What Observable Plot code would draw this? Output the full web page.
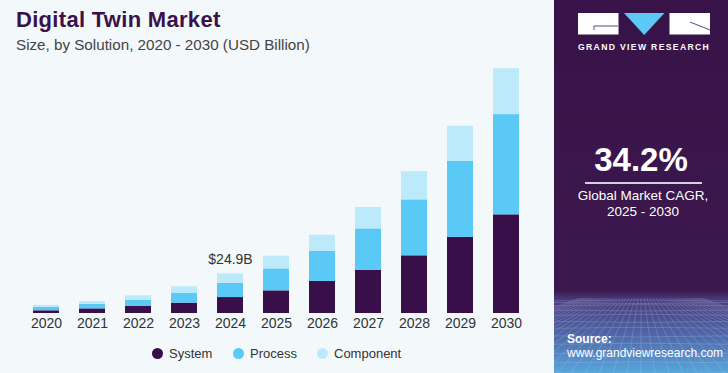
<!DOCTYPE html>
<html>
<head>
<meta charset="utf-8">
<script src="https://cdn.jsdelivr.net/npm/d3@7"></script>
<script src="https://cdn.jsdelivr.net/npm/@observablehq/plot@0.6"></script>
<style>
  html, body { margin: 0; padding: 0; }
  body { width: 728px; height: 373px; overflow: hidden; background: #f3f8fb; font-family: "Liberation Sans", Arial, sans-serif; }
  #wrap { position: relative; width: 728px; height: 373px; }
  #title { position: absolute; left: 16px; top: 7px; font-size: 22px; font-weight: bold; color: #3a1249; letter-spacing: 0.3px; }
  #subtitle { position: absolute; left: 16px; top: 36px; font-size: 15.2px; color: #444; }
  #chart { position: absolute; left: 0; top: 0; }
  #legend { position: absolute; left: 0; top: 343px; width: 553px; height: 20px; font-size: 13px; color: #333; }
  .li { position: absolute; top: 0; display: flex; align-items: center; height: 20px; }
  .sw { width: 11px; height: 11px; border-radius: 50%; margin-right: 6px; }
  #panel { position: absolute; left: 554px; top: 0; width: 174px; height: 373px;
    background: linear-gradient(to bottom, #381349 0px, #3b184d 290px, #4a3b7c 300px, #4f67a8 335px, #58a6dc 373px); overflow: hidden; }
  #grid { position: absolute; left: 0; top: 298px; width: 174px; height: 75px; opacity: 0.35; }
  #cagr { position: absolute; left: 0; width: 174px; top: 141px; text-align: center; color: #fff; font-size: 33px; font-weight: bold; }
  #rule { position: absolute; left: 31px; top: 182px; width: 117px; height: 1.5px; background: #d6cfe0; }
  #cagrtxt { position: absolute; left: 0; width: 178px; top: 188px; text-align: center; color: #fff; font-size: 13.5px; line-height: 16px; }
  #src { position: absolute; left: 13px; top: 332px; color: #fff; font-size: 12px; line-height: 14px; white-space: nowrap; }
  #gvr { position: absolute; left: 24px; top: 42px; color: #fff; font-size: 8.6px; font-weight: bold; letter-spacing: 1.35px; }
</style>
</head>
<body>
<div id="wrap">
  <div id="chart"></div>
  <div id="title">Digital Twin Market</div>
  <div id="subtitle">Size, by Solution, 2020 - 2030 (USD Billion)</div>
  <div id="legend"></div>
  <div id="panel">
    <svg id="grid" viewBox="0 0 174 75"></svg>
    <svg style="position:absolute;left:0;top:0" width="174" height="40">
      <rect x="24" y="13" width="40.5" height="21.5" fill="#fff"/>
      <path d="M40 26 L40 30 M40 26 L64 26" stroke="#5a4a7a" stroke-width="1" fill="none"/>
      <polygon points="70,13 110.5,13 90.2,35" fill="#5bc8f5"/>
      <rect x="115.5" y="13" width="40.5" height="21.5" fill="#fff"/>
      <path d="M136 22 L156 30" stroke="#5a4a7a" stroke-width="1" fill="none"/>
    </svg>
    <div id="gvr">GRAND VIEW RESEARCH</div>
    <div id="cagr">34.2%</div>
    <div id="rule"></div>
    <div id="cagrtxt">Global Market CAGR,<br>2025 - 2030</div>
    <div id="src"><b>Source:</b><br>www.grandviewresearch.com</div>
  </div>
</div>
<script>
const years = ["2020","2021","2022","2023","2024","2025","2026","2027","2028","2029","2030"];
const segments = ["System", "Process", "Component"];
const system    = [1.7, 2.9, 4.6, 6.5, 10.0, 14.2, 20.1, 27.0, 36.2, 47.7, 61.9];
const process   = [2.1, 2.9, 3.6, 6.3,  9.0, 13.8, 19.0, 26.1, 35.1, 47.7, 62.9];
const component = [1.3, 1.7, 2.9, 4.0,  5.9,  8.0, 10.0, 13.4, 17.7, 22.1, 28.8];
const colors = ["#380f48", "#5bc9f6", "#bdeafb"];
const annotations = [{year: "2024", total: 24.9, label: "$24.9B"}];

const series = {System: system, Process: process, Component: component};
const data = [];
segments.forEach(s => years.forEach((y, i) => data.push({year: y, segment: s, value: series[s][i]})));

const plot = Plot.plot({
  width: 553,
  height: 340,
  marginLeft: 12,
  marginRight: 13,
  marginTop: 58,
  marginBottom: 27,
  style: {background: "transparent", fontFamily: "Liberation Sans, Arial, sans-serif"},
  x: {domain: years, padding: 0.44, label: null},
  y: {domain: [0, 160], axis: null},
  color: {domain: segments, range: colors},
  marks: [
    Plot.barY(data, {x: "year", y: "value", fill: "segment", order: segments}),
    Plot.axisX({tickSize: 0, tickPadding: 5, fontSize: 14, fill: "#333", label: null}),
    Plot.text(annotations, {x: "year", y: "total", text: "label", dy: -10, fontSize: 14, fill: "#333", lineAnchor: "bottom"})
  ]
});
document.getElementById("chart").appendChild(plot);

// legend
const legend = document.getElementById("legend");
const lx = [152, 233, 317];
segments.forEach((s, i) => {
  const d = document.createElement("div");
  d.className = "li";
  d.style.left = lx[i] + "px";
  d.innerHTML = `<span class="sw" style="background:${colors[i]}"></span><span>${s}</span>`;
  legend.appendChild(d);
});

// decorative perspective grid in panel
const g = d3.select("#grid");
for (let k = 0; k < 12; k++) {
  const yy = 3 + Math.pow(k / 11, 1.6) * 72;
  g.append("path").attr("d", `M0 ${yy} Q87 ${yy + (k % 2 ? 2 : -2)} 174 ${yy}`).attr("stroke", "#cfe0ff").attr("stroke-width", 0.6).attr("fill", "none");
}
for (let k = -10; k <= 30; k++) {
  const x0 = 87 + (k - 10) * 3;
  const x1 = 87 + (k - 10) * 14;
  g.append("line").attr("x1", x0).attr("y1", 0).attr("x2", x1).attr("y2", 75).attr("stroke", "#cfe0ff").attr("stroke-width", 0.6);
}
</script>
</body>
</html>
